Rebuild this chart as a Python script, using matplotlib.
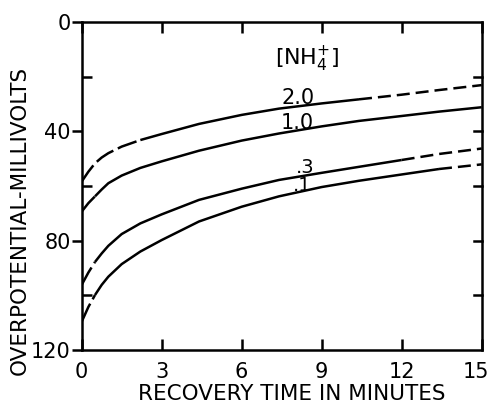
import matplotlib
matplotlib.use('Agg')
import matplotlib.pyplot as plt
import matplotlib.transforms as mtransforms
from matplotlib.ticker import FixedLocator

# recovery time (min) and overpotential (mV)
time_min = [0, 0.25, 0.5, 0.75, 1, 1.5, 2.2, 3, 4.4, 6, 7.4, 9, 10.4, 12, 13.4, 15]
eta_20 = [58.4, 54.8, 51.7, 49.6, 48.0, 45.6, 43.2, 41.0, 37.3, 34.0, 31.7, 29.8, 28.3, 26.6, 24.9, 23.1]
eta_10 = [69.4, 66.3, 63.8, 61.3, 59.0, 56.2, 53.4, 51.0, 47.1, 43.4, 40.8, 38.2, 36.2, 34.4, 32.8, 31.2]
eta_03 = [96.2, 91.7, 87.8, 84.7, 81.9, 77.6, 73.7, 70.4, 65.1, 61.0, 57.8, 55.2, 53.0, 50.5, 48.3, 46.3]
eta_01 = [109.7, 104.3, 99.9, 96.2, 93.2, 88.6, 84.0, 79.8, 73.0, 67.6, 63.8, 60.4, 58.1, 55.8, 53.8, 52.1]

conc_labels = ['2.0', '1.0', '.3', '.1']
x_ticks = [0, 3, 6, 9, 12, 15]
y_ticks = [0, 40, 80, 120]

LONG = (0, (8, 2))       # start of curve
SHORT = (0, (5.2, 2.4))  # extrapolated end

# (series, [(i0, i1, style), ...], label position, label size)
curves = [
    (eta_20, [(0, 6, LONG), (6, 12, '-'), (12, 15, SHORT)], (8.1, 30.0), 15),
    (eta_10, [(0, 2, LONG), (2, 15, '-')], (8.1, 39.3), 15),
    (eta_03, [(0, 2, LONG), (2, 13, '-'), (13, 15, SHORT)], (8.37, 55.2), 14),
    (eta_01, [(0, 2, LONG), (2, 14, '-'), (14, 15, SHORT)], (8.27, 62.0), 14),
]

fig = plt.figure(figsize=(4.9, 4.05), dpi=100)
ax = fig.add_axes([0.1667, 0.136, 0.8163, 0.8097])

for (vals, segs, lpos, fs), lab in zip(curves, conc_labels):
    for i0, i1, ls in segs:
        ax.plot(time_min[i0:i1 + 1], vals[i0:i1 + 1], color='black', lw=1.8,
                linestyle=ls, solid_capstyle='butt', dash_capstyle='butt')
    ax.text(lpos[0], lpos[1], lab, fontsize=fs, ha='center', va='baseline')

ax.text(8.45, 13.5, r'[NH$_4^{+}$]', fontsize=16, ha='center', va='center')

ax.set_xlim(0, 15)
ax.set_ylim(120, 0)
ax.set_xticks(x_ticks)
ax.set_yticks(y_ticks)
ax.yaxis.set_minor_locator(FixedLocator([20, 60, 100]))
ax.tick_params(axis='y', which='major', direction='out', length=7, width=1.8,
               labelsize=15, pad=1, right=False)
ax.tick_params(axis='y', which='minor', direction='in', length=7, width=1.8)
ax.tick_params(axis='x', which='major', direction='in', length=8, width=1.8,
               labelsize=15, pad=9, top=True)

# nudge the last x label inside the figure
last = ax.get_xticklabels()[-1]
last.set_transform(last.get_transform() +
                   mtransforms.ScaledTranslation(-6 / 100, 0, fig.dpi_scale_trans))

# ticks pointing inward on the right spine at every 20 mV
for yv in [20, 40, 60, 80, 100]:
    ax.plot([15, 14.72], [yv, yv], color='black', lw=1.8, clip_on=False)

for s in ax.spines.values():
    s.set_linewidth(1.8)

fig.text(292 / 490, 1 - 394.5 / 405, 'RECOVERY TIME IN MINUTES', fontsize=15.5,
         ha='center', va='center')
fig.text(20 / 490, 1 - 220 / 405, 'OVERPOTENTIAL-MILLIVOLTS', fontsize=15.5,
         ha='center', va='center', rotation=90)

fig.savefig('out.png', dpi=100)
